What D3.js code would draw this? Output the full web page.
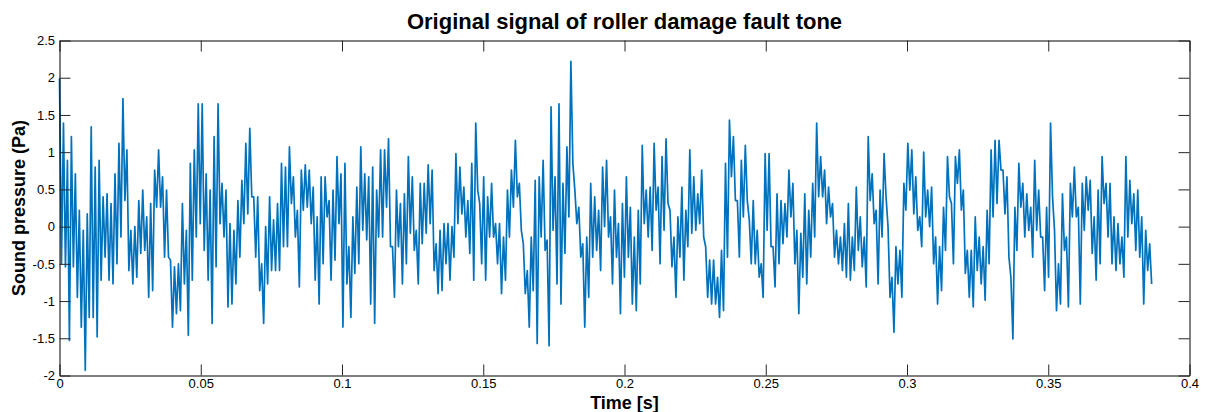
<!DOCTYPE html>
<html>
<head>
<meta charset="utf-8">
<script src="https://cdn.jsdelivr.net/npm/d3@7"></script>
<style>
  html, body { margin: 0; padding: 0; background: #fff; }
  svg { display: block; font-family: "Liberation Sans", Arial, sans-serif; }
</style>
</head>
<body>
<svg id="chart" width="1205" height="412"></svg>
<script>
// Recorded sound pressure (Pa), in time order; each pair is the local crest and trough.
const pressure = [
  // 0 – 0.033 s
  1.99,-0.50, 1.39,-0.54, 0.89,-1.53, 1.21,-0.54, 0.71,-0.95, 0.22,-1.35, -0.05,-1.93, 0.17,-1.22,
  1.34,-1.22, 0.80,-1.48, 0.89,-0.72, 0.40,-0.41, 0.44,-0.72, 0.31,-0.77, 0.71,-0.50, 1.12,-0.14,
  1.72,0.35, 1.03,-0.59, -0.05,-0.77, 0.00,-0.68, 0.35,-0.36, 0.49,-0.32, 0.13,-0.95,
  // 0.033 – 0.067 s
  0.31,-0.86, 0.76,0.26, 1.03,0.26, 0.67,-0.41, 0.49,-0.41, -0.45,-1.35, -0.54,-1.17, -0.50,-1.13,
  0.31,-0.77, -0.05,-1.46, 0.85,-0.72, 1.03,-0.14, 1.65,0.04, 1.65,-0.32, 0.71,-0.72, 0.49,-1.30,
  1.21,-0.54, 1.65,0.04, 0.58,-0.14, 0.49,-1.08, 0.04,-1.04, -0.05,-0.77, 0.35,-0.41, 0.62,0.04,
  // 0.067 – 0.101 s
  1.12,0.17, 1.32,0.40, 0.40,-0.41, 0.40,-0.86, -0.50,-1.30, 0.00,-0.77, 0.40,-0.59, 0.09,-0.59,
  0.31,-0.59, 0.85,-0.27, 0.80,-0.27, 1.07,0.31, 0.67,-0.14, 0.22,-0.81, 0.76,0.22, 0.83,0.26,
  0.76,0.04, 0.53,-0.72, 0.13,-1.04, 0.67,-0.50, 0.67,0.13, 0.35,-0.72, 0.49,-0.45, 0.94,0.04,
  // 0.101 – 0.135 s
  0.71,-1.35, 0.85,-0.77, -0.27,-1.22, 0.13,-0.63, 0.53,-0.50, 1.07,-0.05, 0.71,-0.18, 0.67,-1.04,
  0.80,-1.30, 0.49,-0.14, 1.03,-0.14, 1.03,0.26, 1.18,-0.27, -0.27,-0.95, 0.49,-0.27, 0.31,-0.77,
  0.44,-0.50, 0.94,-0.09, 0.67,-0.32, -0.05,-0.77, 0.58,-0.23, 0.58,-0.09, 0.83,0.04, 0.76,-0.59,
  // 0.135 – 0.169 s
  -0.23,-0.90, -0.05,-0.86, 0.04,-0.50, 0.04,-0.72, 0.00,-0.41, 0.98,0.04, 0.80,0.17, 0.53,-0.14,
  0.35,-0.36, 0.85,-0.72, 1.39,0.49, 0.31,-0.50, 0.67,-0.72, 0.40,-0.14, 0.58,-0.14, 0.04,-0.50,
  0.04,-0.90, -0.14,-0.72, 0.49,-0.14, 0.76,0.26, 1.16,0.40, 0.58,-0.05, -0.23,-0.90, -0.59,-1.35,
  // 0.169 – 0.202 s
  -0.14,-0.86, 0.62,-1.57, 0.67,-0.14, 0.89,-0.32, -0.18,-1.60, 1.61,-0.05, 0.67,-0.77, 1.65,-1.04,
  0.58,-0.36, 1.07,0.13, 2.22,0.85, 0.49,0.04, 0.26,-0.41, -0.23,-1.35, -0.14,-0.95, 0.58,-0.41,
  0.40,-0.32, 0.22,-0.59, 0.80,0.00, 0.89,-0.14, 0.13,-0.77, 0.49,-0.41, 0.04,-1.17, 0.31,-0.68,
  // 0.202 – 0.236 s
  0.67,-0.41, 0.26,-1.04, -0.14,-1.13, 0.22,-0.77, 1.09,0.04, 0.49,-0.14, 0.53,-0.32, 1.12,0.22,
  0.53,-0.50, 0.94,-0.05, 1.18,0.31, 0.22,-0.54, -0.14,-0.95, 0.13,-0.41, 0.53,-0.72, 0.22,-0.27,
  1.03,-0.09, 0.67,-0.05, 0.44,0.04, 0.76,-0.14, -0.27,-0.95, -0.45,-1.04, -0.45,-1.04, -0.68,-1.22,
  // 0.236 – 0.270 s
  -0.32,-1.13, 0.85,-0.41, 1.43,0.67, 1.21,0.35, 0.35,-0.41, 0.89,0.13, 1.09,0.35, 0.09,-0.50,
  0.35,-0.50, -0.05,-0.68, -0.50,-0.95, 0.98,-0.05, 0.98,-0.27, -0.27,-0.81, 0.44,-0.50, 0.35,-0.23,
  0.31,-0.14, 0.76,0.13, 0.58,-0.50, -0.05,-1.17, -0.09,-0.68, 0.44,-0.77, 0.22,-0.41, 0.58,-0.14,
  // 0.270 – 0.303 s
  1.39,0.40, 0.94,0.40, 0.76,0.04, 0.53,0.13, 0.31,-0.41, -0.05,-0.50, -0.14,-0.59, 0.04,-0.68,
  0.31,-0.72, -0.14,-0.59, 0.53,-0.32, 0.13,-0.54, -0.14,-0.81, 1.21,0.35, 0.71,0.04, 0.22,-0.77,
  0.49,-0.14, 0.98,0.40, 0.00,-0.95, -0.68,-1.42, -0.27,-0.77, -0.32,-0.95, 0.58,0.22, 1.12,0.49,
  // 0.303 – 0.337 s
  1.03,0.17, 0.67,-0.05, 0.13,-0.27, 1.00,0.13, 0.49,0.00, 0.53,-0.50, -0.14,-1.04, -0.27,-0.86,
  0.26,-0.32, 0.94,0.40, 0.31,-0.50, 0.94,0.58, 1.03,0.22, 0.49,-0.63, -0.32,-0.95, -0.32,-1.08,
  0.13,-0.59, -0.14,-0.77, -0.27,-0.99, 0.22,-0.50, 1.03,0.13, 1.16,0.31, 1.16,0.76, 0.76,0.17,
  // 0.337 – 0.387 s
  0.67,-0.41, -0.68,-1.51, 0.26,-0.32, 0.85,0.26, 0.58,-0.14, 0.44,-0.05, 0.26,-0.41, 0.89,-0.05,
  0.49,-0.14, -0.14,-0.86, 0.26,-0.68, 1.39,0.40, -0.05,-1.13, -0.50,-1.04, 0.44,-0.32, -0.14,-1.08,
  0.58,0.13, 0.80,0.13, 0.26,-1.04, 0.58,-0.05, 0.67,0.22, 0.62,-0.36, 0.13,-0.72, 0.49,-0.50,
  0.94,0.31, 0.58,-0.14, 0.58,-0.50, 0.13,-0.59, 0.04,-0.50, -0.14,-0.68, 0.94,-0.14, 0.62,0.04,
  0.44,-0.32, 0.49,-0.41, 0.13,-1.04, -0.05,-0.59, -0.23,-0.77
];
// Length of the record in seconds (samples are evenly spaced over it)
const recordLength = 0.3866;

const xTicks = [0, 0.05, 0.1, 0.15, 0.2, 0.25, 0.3, 0.35, 0.4];
const xTickLabels = ["0", "0.05", "0.1", "0.15", "0.2", "0.25", "0.3", "0.35", "0.4"];
const yTicks = [-2, -1.5, -1, -0.5, 0, 0.5, 1, 1.5, 2, 2.5];
const yTickLabels = ["-2", "-1.5", "-1", "-0.5", "0", "0.5", "1", "1.5", "2", "2.5"];

const titleText = "Original signal of roller damage fault tone";
const xLabelText = "Time [s]";
const yLabelText = "Sound pressure (Pa)";

const svg = d3.select("#chart");
const box = { left: 59.5, right: 1189.5, top: 40.5, bottom: 375.5 };
const tickLen = 11;

const x = d3.scaleLinear().domain([0, 0.4]).range([box.left, box.right]);
const y = d3.scaleLinear().domain([-2, 2.5]).range([box.bottom, box.top]);

const samples = pressure.map((p, i) => ({ t: i * recordLength / (pressure.length - 1), p }));

// Signal trace
const line = d3.line().x(d => x(d.t)).y(d => y(d.p));
svg.append("path")
  .datum(samples)
  .attr("d", line)
  .attr("fill", "none")
  .attr("stroke", "#0072BD")
  .attr("stroke-width", 1.7)
  .attr("stroke-linejoin", "round");

// Axes: inward ticks on all four sides
const tickColor = "#262626";
const bottomAxis = d3.axisBottom(x).tickValues(xTicks)
  .tickFormat((d, i) => xTickLabels[i]).tickSizeInner(-tickLen).tickSizeOuter(0).tickPadding(3);
const topAxis = d3.axisTop(x).tickValues(xTicks).tickFormat("").tickSizeInner(-tickLen).tickSizeOuter(0);
const leftAxis = d3.axisLeft(y).tickValues(yTicks)
  .tickFormat((d, i) => yTickLabels[i]).tickSizeInner(-tickLen).tickSizeOuter(0).tickPadding(4.5);
const rightAxis = d3.axisRight(y).tickValues(yTicks).tickFormat("").tickSizeInner(-tickLen).tickSizeOuter(0);

function styleAxis(g) {
  g.select(".domain").attr("stroke", "#000").attr("stroke-width", 1);
  g.selectAll(".tick line").attr("stroke", tickColor).attr("stroke-width", 1);
  g.selectAll(".tick text")
    .attr("fill", "#000")
    .style("font-family", '"Liberation Sans", Arial, sans-serif')
    .style("font-size", "13px");
}

svg.append("g").attr("transform", `translate(0,${box.bottom})`).call(bottomAxis).call(styleAxis);
svg.append("g").attr("transform", `translate(0,${box.top})`).call(topAxis).call(styleAxis);
svg.append("g").attr("transform", `translate(${box.left},0)`).call(leftAxis).call(styleAxis);
svg.append("g").attr("transform", `translate(${box.right},0)`).call(rightAxis).call(styleAxis);

// Titles
svg.append("text")
  .attr("x", (box.left + box.right) / 2).attr("y", 29)
  .attr("text-anchor", "middle")
  .style("font-weight", "bold").style("font-size", "22px")
  .text(titleText);

svg.append("text")
  .attr("x", (box.left + box.right) / 2).attr("y", 409)
  .attr("text-anchor", "middle")
  .style("font-weight", "bold").style("font-size", "18px")
  .text(xLabelText);

svg.append("text")
  .attr("transform", `translate(25,${(box.top + box.bottom) / 2}) rotate(-90)`)
  .attr("text-anchor", "middle")
  .style("font-weight", "bold").style("font-size", "18px")
  .text(yLabelText);
</script>
</body>
</html>
